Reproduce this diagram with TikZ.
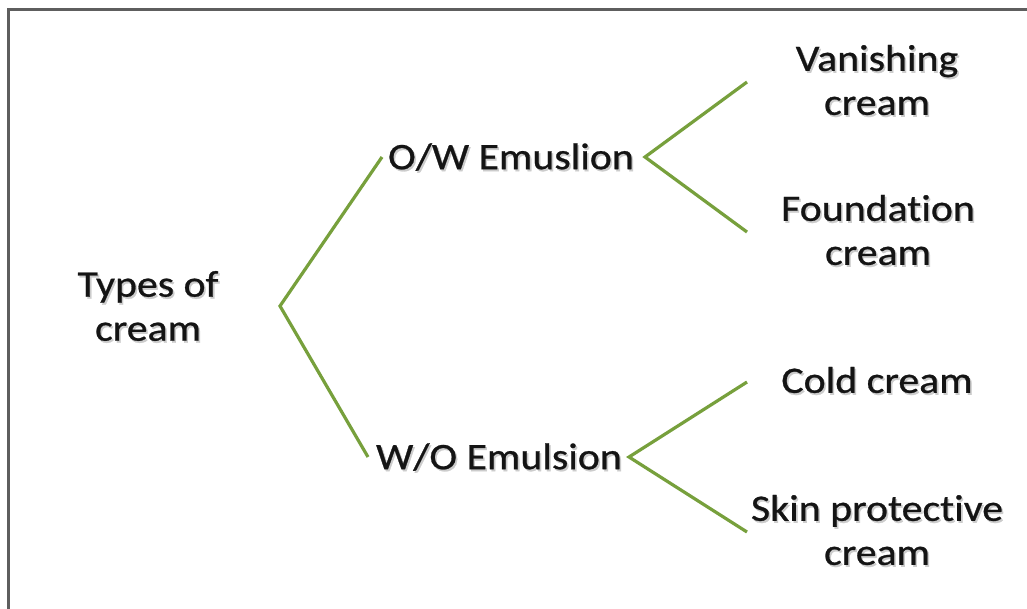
\documentclass[tikz,border=0pt]{standalone}
\usepackage{fontspec}
\setmainfont{Carlito}[FakeStretch=1.12, FakeBold=0.7, Ligatures=NoCommon]
\definecolor{branchgreen}{HTML}{77A03C}
\definecolor{framegray}{HTML}{5E5E5E}
\definecolor{txt}{HTML}{141414}
\tikzset{
  lbl/.style={font=\fontsize{28}{33}\selectfont, text=txt, align=center, inner sep=0pt},
  shd/.style={font=\fontsize{28}{33}\selectfont, text=black!20, align=center, inner sep=0pt},
  branch/.style={draw=branchgreen, line width=2.4pt, line join=miter},
}
\newcommand{\lblnode}[3]{%
  \node[shd] at ([xshift=1.2pt,yshift=-1.5pt]#2) {#3};
  \node[lbl] (#1) at (#2) {#3};}
\begin{document}
\begin{tikzpicture}[x=0.75pt,y=-0.75pt]
\useasboundingbox (0,0) rectangle (1027,608);
\fill[white] (0,0) rectangle (1027,608);
\draw[framegray, line width=1.6pt] (8.5,610) -- (8.5,9.5) -- (1030,9.5);

% branch points and ends
\coordinate (v0) at (280,306);
\coordinate (e0a) at (382,157);
\coordinate (e0b) at (368,457);
\coordinate (v1) at (645,157);
\coordinate (e1a) at (747,82);
\coordinate (e1b) at (747,232);
\coordinate (v2) at (629,457);
\coordinate (e2a) at (747,382);
\coordinate (e2b) at (747,532);

\lblnode{root}{148,306}{Types of\\cream}
\lblnode{ow}{511,157}{O/W Emuslion}
\lblnode{wo}{499,457}{W/O Emulsion}
\lblnode{van}{877,80}{Vanishing\\cream}
\lblnode{fou}{878,230}{Foundation\\cream}
\lblnode{cold}{877,380}{Cold cream}
\lblnode{skin}{877,530}{Skin protective\\cream}

\draw[branch] (e0a) -- (v0) -- (e0b);
\draw[branch] (e1a) -- (v1) -- (e1b);
\draw[branch] (e2a) -- (v2) -- (e2b);
\end{tikzpicture}
\end{document}
